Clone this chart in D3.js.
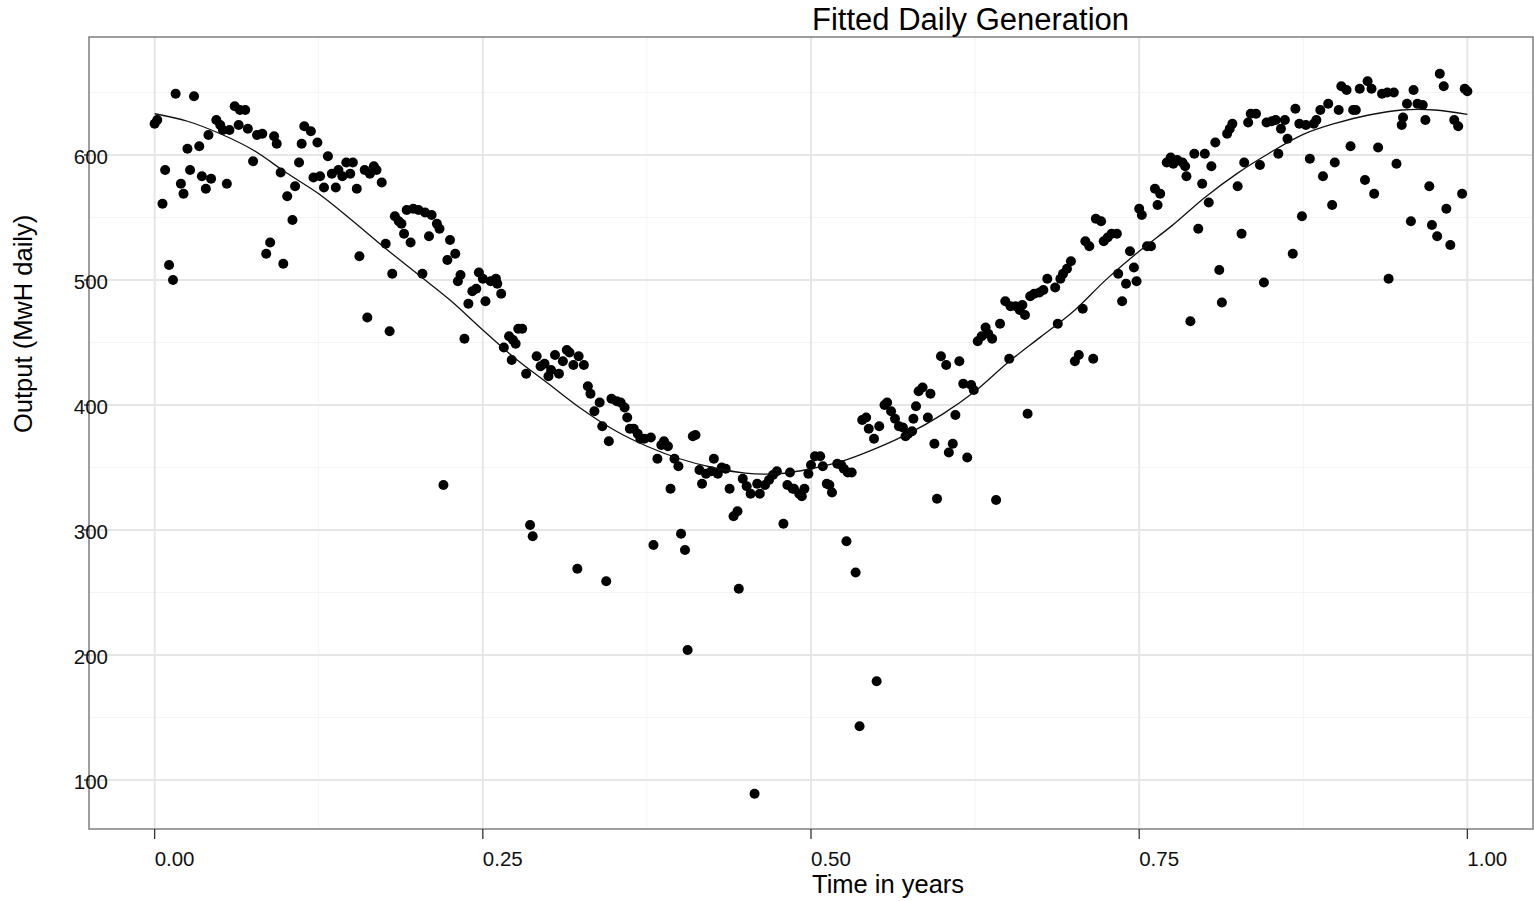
<!DOCTYPE html>
<html>
<head>
<meta charset="utf-8">
<script src="https://cdn.jsdelivr.net/npm/d3@7"></script>
<style>
  body { margin: 0; background: #fff; }
  text { font-family: "Liberation Sans", Arial, sans-serif; }
</style>
</head>
<body>
<div id="chart"></div>
<script>
// daily output, [time in years, MwH]
var observed = [
  [0.000,625],[0.002,628],[0.006,561],[0.008,588],[0.011,512],[0.014,500],[0.016,649],[0.020,577],[0.022,569],[0.025,605],
  [0.027,588],[0.030,647],[0.034,607],[0.036,583],[0.039,573],[0.041,616],[0.043,581],[0.047,628],[0.050,624],[0.052,620],
  [0.055,577],[0.057,620],[0.061,639],[0.064,624],[0.065,636],[0.069,636],[0.071,621],[0.075,595],[0.078,616],[0.082,617],
  [0.085,521],[0.088,530],[0.091,615],[0.093,609],[0.096,586],[0.098,513],[0.101,567],[0.105,548],[0.107,575],[0.110,594],
  [0.112,609],[0.114,623],[0.119,619],[0.121,582],[0.124,610],[0.126,583],[0.129,574],[0.132,599],[0.135,585],[0.138,574],
  [0.140,588],[0.143,583],[0.146,594],[0.149,585],[0.151,594],[0.154,573],[0.156,519],[0.160,588],[0.162,470],[0.164,585],
  [0.167,591],[0.169,588],[0.173,578],[0.176,529],[0.179,459],[0.181,505],[0.183,551],[0.186,547],[0.188,545],[0.190,537],
  [0.192,556],[0.195,530],[0.197,557],[0.201,556],[0.204,505],[0.206,554],[0.209,535],[0.211,552],[0.215,545],[0.217,541],
  [0.220,336],[0.223,516],[0.225,532],[0.229,521],[0.231,499],[0.233,504],[0.236,453],[0.239,481],[0.242,491],[0.245,493],
  [0.247,506],[0.250,501],[0.252,483],[0.256,499],[0.260,501],[0.261,497],[0.264,489],[0.266,446],[0.270,455],[0.272,436],
  [0.273,452],[0.275,449],[0.277,461],[0.280,461],[0.283,425],[0.286,304],[0.288,295],[0.291,439],[0.294,431],[0.297,433],
  [0.300,423],[0.302,428],[0.305,440],[0.308,425],[0.311,435],[0.314,444],[0.316,442],[0.319,432],[0.322,269],[0.323,439],
  [0.327,432],[0.330,415],[0.332,409],[0.335,395],[0.339,402],[0.341,383],[0.344,259],[0.346,371],[0.348,405],[0.352,403],
  [0.355,402],[0.358,398],[0.360,390],[0.362,381],[0.365,381],[0.368,377],[0.370,373],[0.373,373],[0.378,374],[0.380,288],
  [0.383,357],[0.386,368],[0.388,371],[0.391,367],[0.393,333],[0.396,357],[0.399,351],[0.401,297],[0.404,284],[0.406,204],
  [0.410,375],[0.412,376],[0.415,348],[0.417,337],[0.420,345],[0.424,347],[0.426,357],[0.429,345],[0.432,350],[0.435,349],
  [0.438,333],[0.441,311],[0.444,315],[0.445,253],[0.448,341],[0.451,335],[0.454,329],[0.457,89],[0.459,337],[0.461,329],
  [0.465,336],[0.468,340],[0.471,344],[0.474,347],[0.479,305],[0.482,336],[0.484,346],[0.486,333],[0.487,333],[0.491,329],
  [0.493,327],[0.495,333],[0.498,345],[0.500,352],[0.503,359],[0.507,359],[0.509,351],[0.512,337],[0.514,336],[0.516,330],
  [0.520,353],[0.523,352],[0.525,349],[0.527,291],[0.528,346],[0.531,346],[0.534,266],[0.537,143],[0.539,388],[0.542,390],
  [0.544,381],[0.548,373],[0.550,179],[0.552,383],[0.556,400],[0.558,402],[0.561,395],[0.564,389],[0.567,383],[0.570,382],
  [0.572,375],[0.574,377],[0.577,379],[0.578,389],[0.580,399],[0.582,411],[0.585,414],[0.589,390],[0.591,409],[0.594,369],
  [0.596,325],[0.599,439],[0.603,432],[0.605,362],[0.608,369],[0.610,392],[0.613,435],[0.616,417],[0.619,358],[0.622,416],
  [0.624,412],[0.627,451],[0.630,455],[0.633,462],[0.635,457],[0.638,453],[0.641,324],[0.644,465],[0.648,483],[0.651,437],
  [0.652,479],[0.656,479],[0.659,476],[0.661,480],[0.663,472],[0.665,393],[0.667,487],[0.670,489],[0.674,490],[0.677,492],
  [0.680,501],[0.686,494],[0.688,465],[0.690,501],[0.692,505],[0.695,509],[0.698,515],[0.701,435],[0.704,440],[0.707,477],
  [0.709,531],[0.712,527],[0.715,437],[0.717,549],[0.721,547],[0.723,531],[0.726,534],[0.729,537],[0.733,537],[0.734,505],
  [0.737,483],[0.740,497],[0.743,523],[0.746,510],[0.748,499],[0.750,557],[0.752,552],[0.756,527],[0.759,527],[0.762,573],
  [0.764,560],[0.766,569],[0.771,594],[0.774,598],[0.776,593],[0.779,596],[0.783,594],[0.785,591],[0.786,583],[0.789,467],
  [0.792,601],[0.795,541],[0.798,577],[0.800,601],[0.803,562],[0.805,591],[0.808,610],[0.811,508],[0.813,482],[0.817,617],
  [0.819,621],[0.821,625],[0.825,575],[0.828,537],[0.830,594],[0.833,626],[0.835,633],[0.839,633],[0.842,592],[0.845,498],
  [0.847,626],[0.851,627],[0.854,628],[0.856,601],[0.858,621],[0.861,628],[0.863,613],[0.867,521],[0.869,637],[0.872,625],
  [0.874,551],[0.877,624],[0.880,597],[0.883,625],[0.885,628],[0.888,636],[0.890,583],[0.894,641],[0.897,560],[0.899,594],
  [0.902,636],[0.904,655],[0.908,652],[0.911,607],[0.913,636],[0.915,636],[0.918,653],[0.922,580],[0.924,659],[0.927,653],
  [0.929,569],[0.932,606],[0.935,649],[0.939,650],[0.940,501],[0.944,650],[0.946,593],[0.950,624],[0.951,630],[0.954,641],
  [0.957,547],[0.959,652],[0.962,641],[0.966,640],[0.968,628],[0.971,575],[0.973,544],[0.977,535],[0.979,665],[0.982,655],
  [0.984,557],[0.987,528],[0.990,628],[0.993,623],[0.996,569],[0.998,653],[1.000,651]
];

// fitted curve, read every 0.025 years
var fitTime = [0,0.025,0.05,0.075,0.1,0.125,0.15,0.175,0.2,0.225,0.25,0.275,0.3,0.325,0.35,0.375,0.4,0.425,0.45,0.475,
  0.5,0.525,0.55,0.575,0.6,0.625,0.65,0.675,0.7,0.725,0.75,0.775,0.8,0.825,0.85,0.875,0.9,0.925,0.95,0.975,1];
var fitOutput = [633,627,617,604,586,569,548,526,505,484,460,437,417,397,380,367,357,350,345.5,345,
  349,355.5,365.5,377.5,392.5,411,434,454.5,475,500.5,523,543.5,566,585.5,602,616.5,625.5,632,636,636,632.5];

var xTicks = [0, 0.25, 0.5, 0.75, 1];
var xTickLabels = ["0.00", "0.25", "0.50", "0.75", "1.00"];
var xMinor = [0.125, 0.375, 0.625, 0.875];
var yTicks = [100, 200, 300, 400, 500, 600];
var yMinor = [150, 250, 350, 450, 550, 650];

var width = 1534, height = 901;
// panel edges (named so they don't clash with window.top)
var pLeft = 89, pRight = 1533, pTop = 37, pBottom = 829;

var svg = d3.select("#chart").append("svg")
  .attr("width", width)
  .attr("height", height);

var x = d3.scaleLinear().domain([-0.05, 1.05]).range([pLeft, pRight]);
var y = d3.scaleLinear().domain([60.8, 694.4]).range([pBottom, pTop]);

// grid, minor first then major
svg.selectAll(".xminor").data(xMinor).enter().append("line")
  .attr("x1", function(d) { return x(d); }).attr("x2", function(d) { return x(d); })
  .attr("y1", pTop).attr("y2", pBottom)
  .style("stroke", "#f4f4f4").style("stroke-width", 1);
svg.selectAll(".yminor").data(yMinor).enter().append("line")
  .attr("x1", pLeft).attr("x2", pRight)
  .attr("y1", function(d) { return y(d); }).attr("y2", function(d) { return y(d); })
  .style("stroke", "#f4f4f4").style("stroke-width", 1);
svg.selectAll(".xmajor").data(xTicks).enter().append("line")
  .attr("x1", function(d) { return x(d); }).attr("x2", function(d) { return x(d); })
  .attr("y1", pTop).attr("y2", pBottom)
  .style("stroke", "#e6e6e6").style("stroke-width", 2);
svg.selectAll(".ymajor").data(yTicks).enter().append("line")
  .attr("x1", pLeft).attr("x2", pRight)
  .attr("y1", function(d) { return y(d); }).attr("y2", function(d) { return y(d); })
  .style("stroke", "#e6e6e6").style("stroke-width", 2);

// points
svg.selectAll(".pt").data(observed).enter().append("circle")
  .attr("class", "pt")
  .attr("cx", function(d) { return x(d[0]); })
  .attr("cy", function(d) { return y(d[1]); })
  .attr("r", 5)
  .style("fill", "#000");

// fitted line
var line = d3.line()
  .x(function(d, i) { return x(fitTime[i]); })
  .y(function(d) { return y(d); })
  .curve(d3.curveCatmullRom);
svg.append("path")
  .datum(fitOutput)
  .attr("d", line)
  .style("fill", "none")
  .style("stroke", "#111")
  .style("stroke-width", 1.3);

// panel border
svg.append("rect")
  .attr("x", pLeft).attr("y", pTop)
  .attr("width", pRight - pLeft).attr("height", pBottom - pTop)
  .style("fill", "none").style("stroke", "#7f7f7f").style("stroke-width", 1.5);

// ticks
svg.selectAll(".xtick").data(xTicks).enter().append("line")
  .attr("x1", function(d) { return x(d); }).attr("x2", function(d) { return x(d); })
  .attr("y1", pBottom).attr("y2", pBottom + 10)
  .style("stroke", "#333").style("stroke-width", 1.3);
svg.selectAll(".ytick").data(yTicks).enter().append("line")
  .attr("x1", pLeft - 5).attr("x2", pLeft)
  .attr("y1", function(d) { return y(d); }).attr("y2", function(d) { return y(d); })
  .style("stroke", "#333").style("stroke-width", 1.3);

// tick labels (they sit shifted, as in the original export)
svg.selectAll(".xlab").data(xTicks).enter().append("text")
  .text(function(d, i) { return xTickLabels[i]; })
  .attr("x", function(d) { return x(d); })
  .attr("y", 866)
  .style("font-size", "20.5px")
  .style("fill", "#111");
svg.selectAll(".ylab").data(yTicks).enter().append("text")
  .text(function(d) { return d; })
  .attr("x", 108)
  .attr("y", function(d) { return y(d) + 9; })
  .attr("text-anchor", "end")
  .style("font-size", "20.5px")
  .style("fill", "#111");

// titles
svg.append("text")
  .text("Fitted Daily Generation")
  .attr("x", 812).attr("y", 30)
  .style("font-size", "31px");
svg.append("text")
  .text("Time in years")
  .attr("x", 812).attr("y", 893)
  .style("font-size", "25.5px");
svg.append("text")
  .text("Output (MwH daily)")
  .attr("transform", "translate(32,433) rotate(-90)")
  .style("font-size", "25.5px");
</script>
</body>
</html>
